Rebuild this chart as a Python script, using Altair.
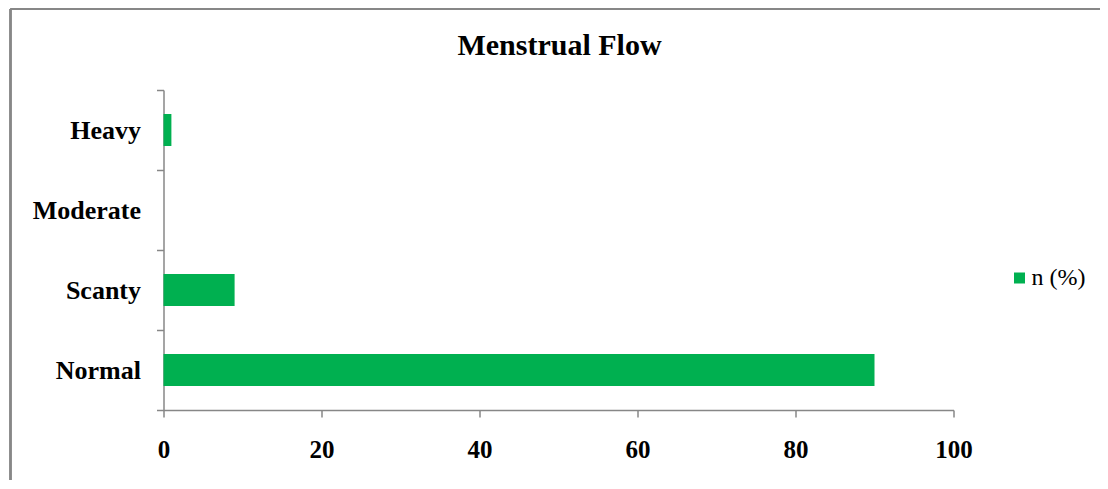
import altair as alt
import pandas as pd

title_text = "Menstrual Flow"
categories = ["Heavy", "Moderate", "Scanty", "Normal"]
values = [1, 0, 9, 90]
series = ["n (%)"] * 4
x_ticks = [0, 20, 40, 60, 80, 100]

df = pd.DataFrame({"category": categories, "value": values, "series": series})
title_df = pd.DataFrame({"t": [title_text]})

FONT = "Liberation Serif"
GREEN = "#00B050"
GRAY = "#878787"

bars = alt.Chart(df).mark_bar(color=GREEN, height={"band": 0.4}).encode(
    y=alt.Y(
        "category:N",
        sort=categories,
        title=None,
        scale=alt.Scale(paddingInner=0, paddingOuter=0),
        axis=alt.Axis(
            tickBand="extent",
            tickSize=7,
            tickColor=GRAY,
            domainColor=GRAY,
            domainWidth=1.5,
            tickWidth=1.5,
            labelFont=FONT,
            labelFontSize=26,
            labelFontWeight="bold",
            labelColor="black",
            labelPadding=16,
            grid=False,
        ),
    ),
    x=alt.X(
        "value:Q",
        title=None,
        scale=alt.Scale(domain=[0, 100], nice=False),
        axis=alt.Axis(
            values=x_ticks,
            tickSize=7,
            tickColor=GRAY,
            domainColor=GRAY,
            domainWidth=1.5,
            tickWidth=1.5,
            labelFont=FONT,
            labelFontSize=25,
            labelFontWeight="bold",
            labelColor="black",
            labelPadding=20,
            labelFlush=False,
            grid=False,
        ),
    ),
    color=alt.Color(
        "series:N",
        scale=alt.Scale(domain=["n (%)"], range=[GREEN]),
        legend=alt.Legend(
            title=None,
            orient="none",
            legendX=844,
            legendY=176,
            symbolType="square",
            symbolSize=121,
            symbolStrokeWidth=0,
            labelFont=FONT,
            labelFontSize=24,
            labelColor="black",
            labelOffset=0,
            padding=0,
        ),
    ),
)

title_mark = alt.Chart(title_df).mark_text(
    font=FONT, fontSize=30, fontWeight="bold", color="black",
    align="center", baseline="alphabetic",
).encode(
    x=alt.value(396),
    y=alt.value(-35),
    text="t:N",
)

frame = alt.Chart(df).mark_rule(color=GRAY, strokeWidth=2).encode(
    x=alt.value(-153),
    x2=alt.value(1200),
    y=alt.value(-81),
)
frame_left = alt.Chart(df).mark_rule(color=GRAY, strokeWidth=2).encode(
    x=alt.value(-153),
    y=alt.value(-81),
    y2=alt.value(400),
)

chart = alt.layer(frame, frame_left, title_mark, bars).properties(
    width=790,
    height=320,
    autosize=alt.AutoSizeParams(type="none"),
    padding={"left": 155.5, "top": 82, "right": 146, "bottom": 70},
).configure_view(stroke=None).configure_legend(labelFont=FONT)

chart.save("out.html", embed_options={"renderer": "svg", "actions": False})
